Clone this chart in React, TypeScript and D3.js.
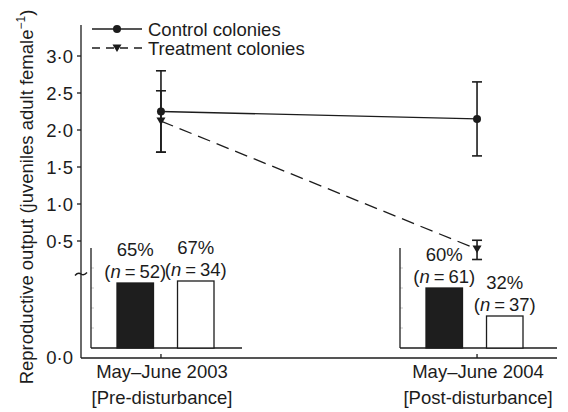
import React from "react";
import * as d3 from "d3";

// ---- data ----
const periods = ["May–June 2003", "May–June 2004"];
const periodSub = ["[Pre-disturbance]", "[Post-disturbance]"];
const controlMean = [2.25, 2.15];
const controlUpper = [2.8, 2.65];
const controlLower = [1.7, 1.65];
const treatMean = [2.12, 0.39];
const treatUpper = [2.53, 0.51];
const treatLower = [1.7, 0.25];
const yTicks = [0.5, 1.0, 1.5, 2.0, 2.5, 3.0];
const groups = ["Control", "Treatment"];
const barPercent = [
  [65, 67],
  [60, 32],
];
const barN = [
  [52, 34],
  [61, 37],
];
const legendLabels = ["Control colonies", "Treatment colonies"];

// ---- layout ----
const W = 568;
const H = 412;
const axisX = 81;
const axisTop = 25;
const axisBottom = 358;
const axisRight = 557;
const zeroY = 357;
const breakY = 274;
const FONT = "'Liberation Sans', Arial, Helvetica, sans-serif";
const FS = 18.5;
const INK = "#1c1c1c";

const fmt = (v: number) => v.toFixed(1).replace(".", "·");

export default function App() {
  const x = d3.scalePoint<string>().domain(periods).range([axisX, axisRight]).padding(0.253);
  const y = d3.scaleLinear().domain([0.5, 3.0]).range([241, 56]);

  const line = d3
    .line<number>()
    .x((_, i) => x(periods[i]) as number)
    .y((d) => y(d));

  const insetX0 = [91, 400];
  const insetW = [151, 157];
  const insetY = d3.scaleLinear().domain([0, 100]).range([348, 248]);

  const tri = (cx: number, cy: number, s = 4.5) =>
    `M${cx - s},${cy - s * 0.8}L${cx + s},${cy - s * 0.8}L${cx},${cy + s * 0.9}Z`;

  const errBar = (cx: number, lo: number, hi: number, key: string) => (
    <g key={key} stroke={INK} strokeWidth={1.6}>
      <line x1={cx} x2={cx} y1={y(lo)} y2={y(hi)} />
      <line x1={cx - 5} x2={cx + 5} y1={y(lo)} y2={y(lo)} />
      <line x1={cx - 5} x2={cx + 5} y1={y(hi)} y2={y(hi)} />
    </g>
  );

  return (
    <svg
      width={W}
      height={H}
      style={{ position: "absolute", left: 0, top: 0, background: "#fff" }}
      fontFamily={FONT}
      fontSize={FS}
    >
      <rect width={W} height={H} fill="#fff" />
      {/* insets */}
      {periods.map((p, pi) => {
        const x0 = insetX0[pi];
        const bx = d3
          .scaleBand<string>()
          .domain(groups)
          .range([x0 + 26, x0 + 123])
          .paddingInner(0.397)
          .paddingOuter(0);
        return (
          <g key={"inset" + pi}>
            {[20, 40, 60, 80].map((t) => (
              <line key={t} x1={x0} x2={x0 + 3} y1={insetY(t)} y2={insetY(t)} stroke="#bbb" strokeWidth={0.8} />
            ))}
            <line x1={x0} x2={x0} y1={insetY(100)} y2={insetY(0)} stroke={INK} strokeWidth={1.3} />
            <line x1={x0} x2={x0 + insetW[pi]} y1={insetY(0)} y2={insetY(0)} stroke={INK} strokeWidth={1.3} />
            {groups.map((g, gi) => {
              const v = barPercent[pi][gi];
              const bxv = bx(g) as number;
              const cx = bxv + bx.bandwidth() / 2;
              const top = insetY(v);
              return (
                <g key={g}>
                  <rect
                    x={bxv}
                    y={top}
                    width={bx.bandwidth()}
                    height={insetY(0) - top}
                    fill={gi === 0 ? "#1e1e1e" : "#fff"}
                    stroke={INK}
                    strokeWidth={1.3}
                  />
                  <text x={cx} y={top - 5} textAnchor="middle" fill={INK} wordSpacing={-1.2}>
                    (<tspan fontStyle="italic">n</tspan> = {barN[pi][gi]})
                  </text>
                  <text x={cx} y={top - 27} textAnchor="middle" fill={INK}>
                    {barPercent[pi][gi]}%
                  </text>
                </g>
              );
            })}
          </g>
        );
      })}

      {/* main axes */}
      <line x1={axisX} x2={axisX} y1={axisTop} y2={axisBottom} stroke={INK} strokeWidth={1.3} />
      <line x1={axisX} x2={axisRight} y1={axisBottom} y2={axisBottom} stroke={INK} strokeWidth={1.3} />
      {yTicks.map((t) => (
        <g key={t}>
          <line x1={axisX - 4} x2={axisX} y1={y(t)} y2={y(t)} stroke={INK} strokeWidth={1.3} />
          <text x={73} y={y(t)} dy="0.36em" textAnchor="end" fill={INK}>
            {fmt(t)}
          </text>
        </g>
      ))}
      <text x={73} y={zeroY} dy="0.36em" textAnchor="end" fill={INK}>
        {fmt(0)}
      </text>
      {/* axis break */}
      <path
        d={`M${axisX - 6},${breakY + 1.5} Q${axisX - 3},${breakY - 2} ${axisX},${breakY} T${axisX + 6},${breakY - 1.5}`}
        fill="none"
        stroke={INK}
        strokeWidth={1.4}
      />
      {periods.map((p, i) => (
        <g key={p}>
          <line x1={x(p)} x2={x(p)} y1={axisBottom - 4} y2={axisBottom} stroke={INK} strokeWidth={1.3} />
          <text x={(x(p) as number) + 1} y={378} textAnchor="middle" fill={INK}>
            {p}
          </text>
          <text x={(x(p) as number) + 1} y={404} textAnchor="middle" fill={INK}>
            {periodSub[i]}
          </text>
        </g>
      ))}

      {/* y title */}
      <text
        transform={`translate(26,197) rotate(-90)`}
        textAnchor="middle"
        dy="0.36em"
        fill={INK}
      >
        Reproductive output (juveniles adult female
        <tspan fontSize={FS * 0.65} dy="-0.6em">−1</tspan>
        <tspan dy="0.39em">)</tspan>
      </text>

      {/* lines */}
      <path d={line(controlMean) || ""} fill="none" stroke={INK} strokeWidth={1.3} />
      <path d={line(treatMean) || ""} fill="none" stroke={INK} strokeWidth={1.3} strokeDasharray="13,7" />
      {periods.map((p, i) => errBar(x(p) as number, controlLower[i], controlUpper[i], "ce" + i))}
      {periods.map((p, i) => errBar(x(p) as number, treatLower[i], treatUpper[i], "te" + i))}
      {periods.map((p, i) => (
        <circle key={"c" + i} cx={x(p)} cy={y(controlMean[i])} r={4} fill={INK} />
      ))}
      {periods.map((p, i) => (
        <path key={"t" + i} d={tri(x(p) as number, y(treatMean[i]))} fill={INK} />
      ))}

      {/* legend */}
      <g>
        <line x1={92} x2={142} y1={29} y2={29} stroke={INK} strokeWidth={1.3} />
        <circle cx={117} cy={29} r={4} fill={INK} />
        <text x={148} y={29} dy="0.36em" fill={INK}>
          {legendLabels[0]}
        </text>
        <line x1={92} x2={142} y1={48} y2={48} stroke={INK} strokeWidth={1.3} strokeDasharray="8,6" />
        <path d={tri(117, 48)} fill={INK} />
        <text x={148} y={48} dy="0.36em" fill={INK}>
          {legendLabels[1]}
        </text>
      </g>
    </svg>
  );
}
